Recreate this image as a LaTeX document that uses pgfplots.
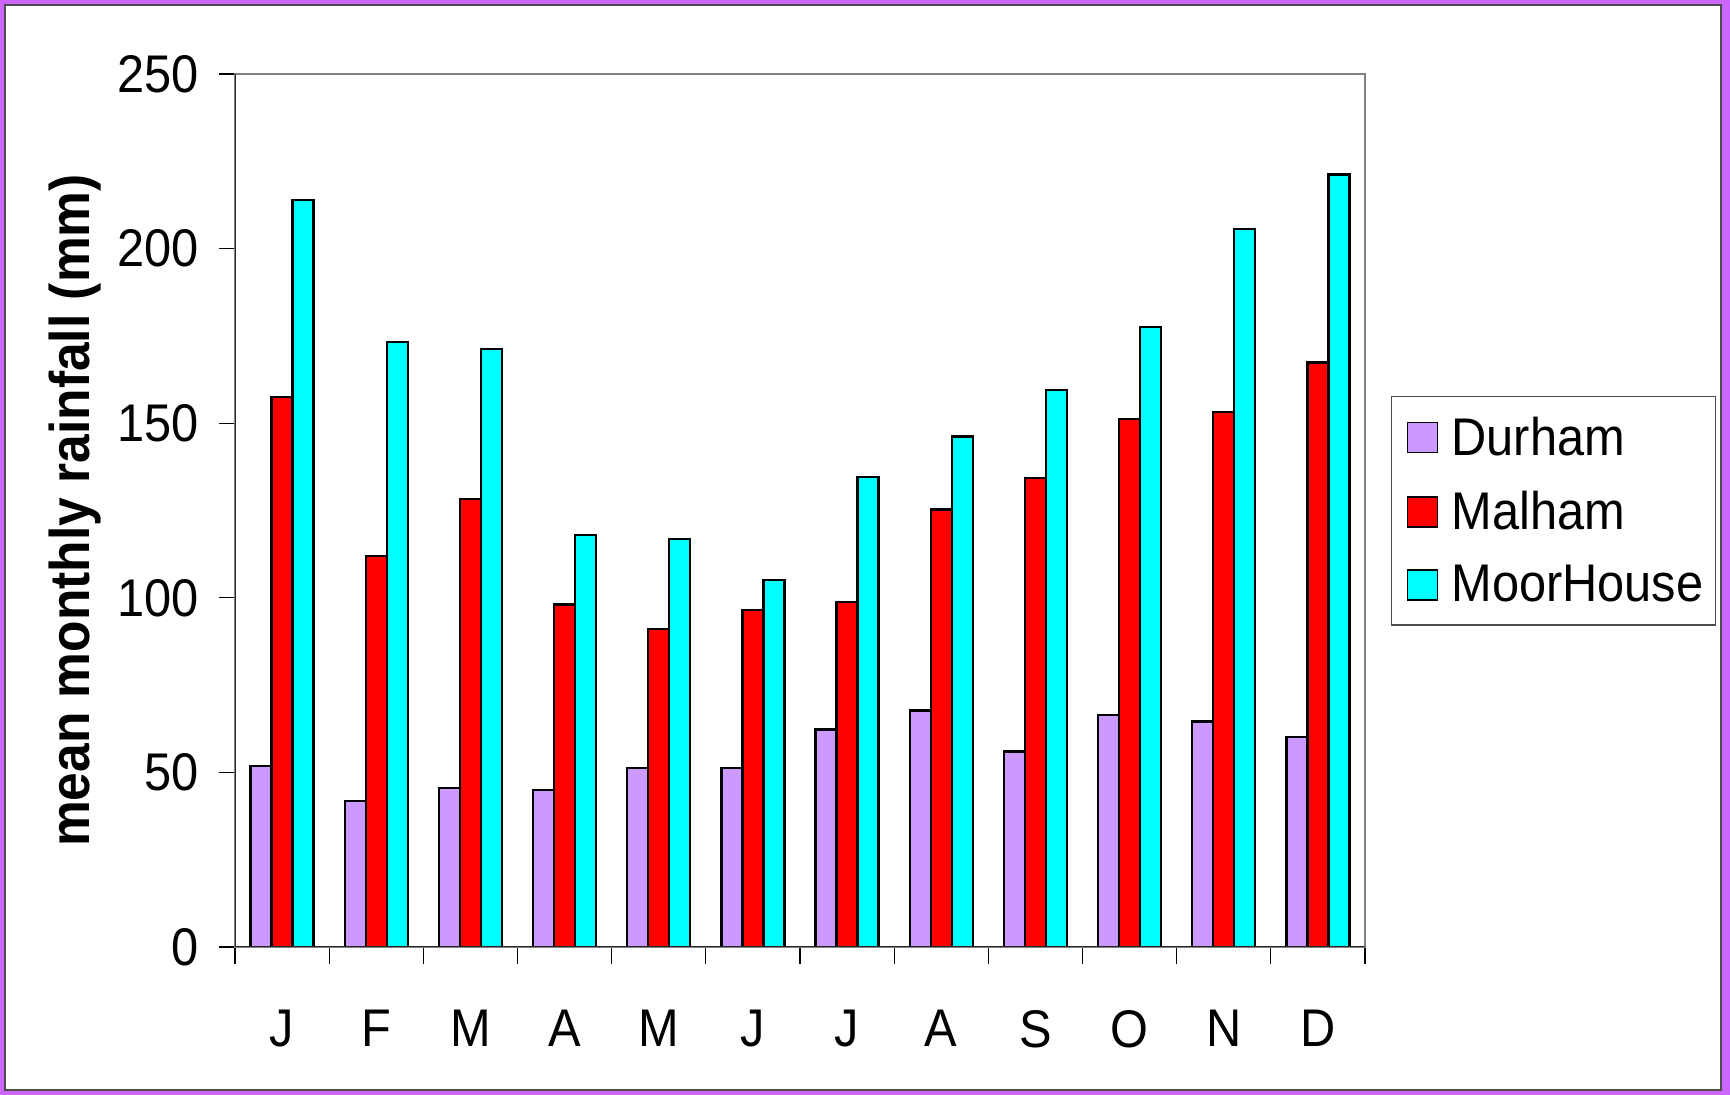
\documentclass[border=0pt]{standalone}
\usepackage{fontspec}
\setmainfont{Liberation Sans}[FakeStretch=0.92]
\usepackage{pgfplots}
\pgfplotsset{compat=1.18}
\definecolor{durham}{HTML}{CC99FF}
\definecolor{malham}{HTML}{FF0000}
\definecolor{moor}{HTML}{00FFFF}
\definecolor{framepurple}{HTML}{CC66FF}
\pgfplotsset{
  square legend/.style={legend image code/.code={%
      \path (0pt,0pt);
      \draw[##1,line width=0.8pt] (1.5pt,-7.5pt) rectangle (16.5pt,7.5pt);}},
}

\begin{document}
\begin{tikzpicture}[x=1pt,y=1pt]
% outer frame
\fill[framepurple] (0,0) rectangle (865,547.5);
\fill[white,draw=black!70,line width=0.6pt] (2.5,2.5) rectangle (860.5,545);
\begin{axis}[
  at={(117.5pt,74pt)}, anchor=south west,
  scale only axis, width=565pt, height=436.5pt,
  xmin=-0.5, xmax=11.5, ymin=0, ymax=250,
  ytick={0,50,...,250},
  xtick={0,...,11},
  xticklabels={J,F,M,A,M,J,J,A,S,O,N,D},
  minor xtick={-0.5,0.5,...,11.5},
  major x tick style={draw=none},
  xtick pos=bottom, ytick pos=left,
  tick align=outside,
  major tick length=8pt, minor tick length=8.5pt,
  tick style={black, line width=0.6pt},
  axis line style={draw=black!50, line width=0.8pt},
  tick label style={font=\fontsize{26.5}{30}\selectfont},
  /pgf/number format/assume math mode=true,
  xticklabel style={yshift=-20pt},
  yticklabel style={xshift=-6.5pt},
  ylabel={mean monthly rainfall (mm)},
  ylabel style={at={(axis description cs:-0.142,0.5)}, anchor=center,
                font=\fontsize{28}{32}\selectfont\bfseries},
  ybar=0pt, bar width=10.5pt,
  every axis plot/.append style={draw=black, line width=1.1pt},
  legend style={at={(axis description cs:1.023,0.631)}, anchor=north west,
                draw=black!70, line width=0.6pt,
                font=\fontsize{26.5}{30}\selectfont,
                nodes={inner xsep=0pt},
                inner xsep=6pt, inner ysep=8pt, row sep=12.5pt, column sep=6.5pt},
  legend cell align=left,
]
\addplot[fill=durham, square legend] coordinates {
  (0,51.9) (1,41.8) (2,45.6) (3,44.9) (4,51.3) (5,51.3)
  (6,62.3) (7,67.7) (8,56.0) (9,66.5) (10,64.6) (11,60.1)};
\addplot[fill=malham, square legend] coordinates {
  (0,157.4) (1,112.0) (2,128.2) (3,98.1) (4,91.1) (5,96.5)
  (6,98.7) (7,125.3) (8,134.2) (9,151.3) (10,153.2) (11,167.4)};
\addplot[fill=moor, square legend] coordinates {
  (0,213.8) (1,173.3) (2,171.2) (3,118.0) (4,116.8) (5,105.1)
  (6,134.5) (7,146.2) (8,159.5) (9,177.5) (10,205.7) (11,221.2)};
\legend{Durham,Malham,MoorHouse}
\draw[black!85, line width=0.8pt] (rel axis cs:0,1) -- (rel axis cs:0,0) -- (rel axis cs:1,0);
\end{axis}
\end{tikzpicture}
\end{document}
